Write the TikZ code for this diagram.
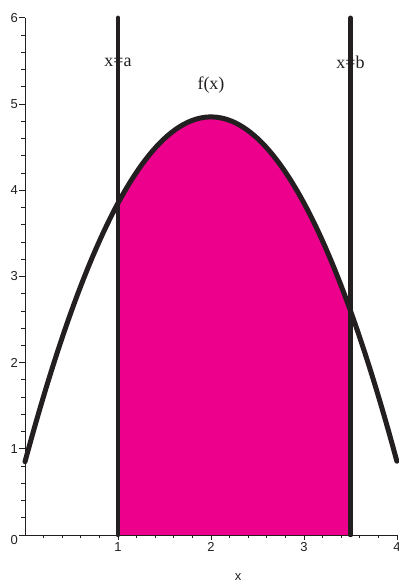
\documentclass[tikz,border=0pt]{standalone}
\usepackage{fontspec}
\setmainfont{Liberation Serif}
\setsansfont{Liberation Sans}
\definecolor{magfill}{RGB}{236,0,140}
\definecolor{inkdark}{RGB}{35,31,32}
\tikzset{
  ticklab/.style={font=\sffamily\fontsize{13}{13}\selectfont, inner sep=0pt, text=inkdark},
  annot/.style={font=\rmfamily\fontsize{18}{18}\selectfont, inner sep=0pt, text=inkdark, anchor=base},
  axisline/.style={draw=inkdark, line width=0.9pt},
  tickline/.style={draw=inkdark, line width=0.7pt},
  boundline/.style={draw=inkdark, line width=4.5pt, line cap=round},
  curveline/.style={draw=inkdark, line width=5pt, line cap=round, line join=round},
}
\begin{document}
\begin{tikzpicture}[x=1pt,y=1pt]
\useasboundingbox (0,0) rectangle (399,584);
\begin{scope}[shift={(25,49)}, x=93pt, y=86.2pt]
  % filled area
  \fill[magfill] (1,0) -- plot[domain=1:3.5, samples=60] (\x, {4.85-(\x-2)^2}) -- (3.5,0) -- cycle;
  % axes
  \coordinate (o) at (0,0);
  \coordinate (xend) at (4,0);
  \coordinate (yend) at (0,6);
  \draw[axisline] (yend) -- (o) -- (xend);
  % y ticks
  \foreach \k in {0,...,6} { \draw[tickline] (0,\k) -- ++(-6pt,0); }
  \foreach \k in {0.2,0.4,...,5.9} { \draw[tickline] (0,\k) -- ++(-4pt,0); }
  % x ticks
  \foreach \k in {1,...,4} { \draw[tickline] (\k,0) -- ++(0,-5pt); }
  \foreach \k in {0.2,0.4,...,3.9} { \draw[tickline] (\k,0) -- ++(0,-3pt); }
  % y labels
  \node[ticklab, anchor=east] (ly0) at ([shift={(-7pt,-5pt)}]0,0) {0};
  \foreach \k in {1,...,6} { \node[ticklab, anchor=east] (ly\k) at ([xshift=-7pt]0,\k) {\k}; }
  % x labels
  \foreach \k in {1,...,4} { \node[ticklab, anchor=north] (lx\k) at ([yshift=-7pt]\k,0) {\k}; }
  % curve
  \draw[curveline] plot[domain=0:4, samples=100] (\x, {4.85-(\x-2)^2});
  % bounds
  \coordinate (a0) at (1,0); \coordinate (a1) at (1,6);
  \coordinate (b0) at (3.5,0); \coordinate (b1) at (3.5,6);
  \node[annot] (xa) at ([yshift=-49pt]1,6) {x=a};
  \node[annot] (xb) at ([yshift=-51pt]3.5,6) {x=b};
  \node[annot] (fx) at ([yshift=-72pt]2,6) {f(x)};
  \draw[boundline] (a0) -- (a1);
  \draw[boundline] (b0) -- (b1);
\end{scope}
\node[ticklab] (xlab) at (238,7) {x};
\end{tikzpicture}
\end{document}
